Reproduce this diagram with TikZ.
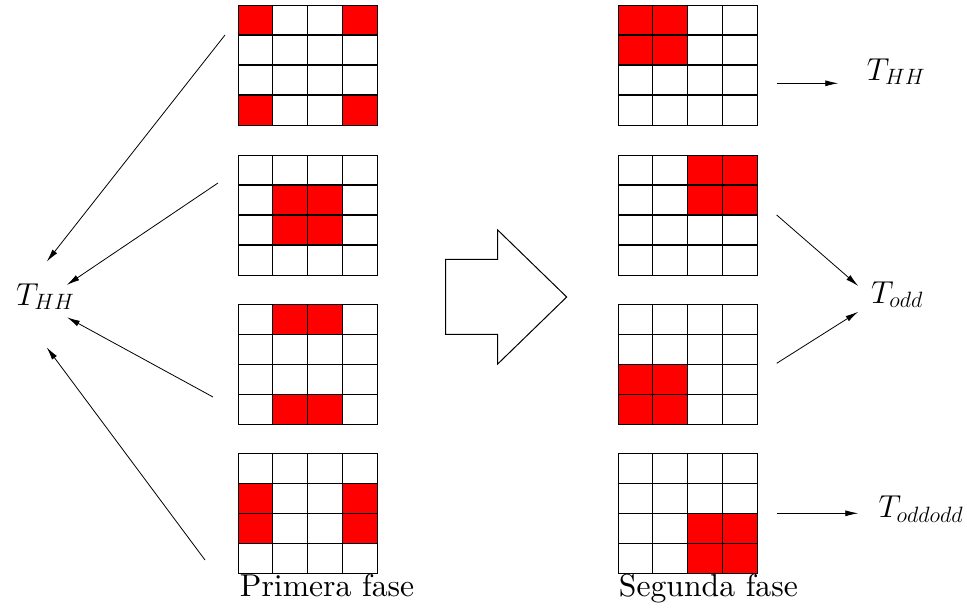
\RequirePackage{fix-cm}
\documentclass[tikz,border=0pt]{standalone}
\usetikzlibrary{arrows.meta}
\newcommand\gridat[4]{%
  \foreach \c/\r in {#4} {\fill[red] ({#2+(\c-1)*34.6},{#3+(\r-1)*30}) rectangle ++(34.6,30);}
  \foreach \i in {1,2,3} {\draw[gridline] ({#2+\i*34.6},#3) -- ++(0,120); \draw[gridline] (#2,{#3+\i*30}) -- ++(138.4,0);}
  \node[gridbox, anchor=north west] (#1) at (#2,#3) {};
}
\begin{document}
\begin{tikzpicture}[x=1pt,y=-1pt,
  gridline/.style={draw=black, line width=1.1pt},
  gridbox/.style={draw=black, line width=1.1pt, minimum width=138.4pt, minimum height=120pt, inner sep=0pt},
  lbl/.style={scale=3.17, inner sep=0pt, anchor=base west},
  mlbl/.style={inner sep=0pt, anchor=base west, font=\fontsize{31.7}{38}\selectfont},
  conn/.style={line width=0.8pt, -{Latex[length=13pt,width=6pt]}}]
\useasboundingbox (0,0) rectangle (967,616);
% left column
\gridat{gL1}{238.3}{5}{1/1,4/1,1/4,4/4}
\gridat{gL2}{238.3}{155}{2/2,3/2,2/3,3/3}
\gridat{gL3}{238.3}{304.3}{2/1,3/1,2/4,3/4}
\gridat{gL4}{238.3}{453.3}{1/2,1/3,4/2,4/3}
% right column
\gridat{gR1}{618.3}{5}{1/1,2/1,1/2,2/2}
\gridat{gR2}{618.3}{155}{3/1,4/1,3/2,4/2}
\gridat{gR3}{618.3}{304.3}{1/3,2/3,1/4,2/4}
\gridat{gR4}{618.3}{453.3}{3/3,4/3,3/4,4/4}
% big arrow
\draw[line width=1pt, line join=miter] (445.7,259.3) -- (497.7,259.3) -- (497.7,230) -- (566.7,297) -- (497.7,364) -- (497.7,334.3) -- (445.7,334.3) -- cycle;
% labels
\node[mlbl] (thhL) at (16,305) {$T_{HH}$};
\node[mlbl] (thhR) at (866.7,80) {$T_{HH}$};
\node[mlbl] (todd) at (871,303) {$T_{odd}$};
\node[mlbl] (toddodd) at (878.3,517.3) {$T_{oddodd}$};
\node[lbl] (p1) at (239.3,596.7) {Primera fase};
\node[lbl] (p2) at (618.3,596.7) {Segunda fase};
% left connectors
\coordinate (a1) at (225,35);   \coordinate (t1) at (46.7,261.7);
\coordinate (a2) at (218,183);  \coordinate (t2) at (66.7,285);
\coordinate (a3) at (213,397);  \coordinate (t3) at (67,317.3);
\coordinate (a4) at (205,560);  \coordinate (t4) at (46.7,347.3);
\draw[conn] (a1) -- (t1);
\draw[conn] (a2) -- (t2);
\draw[conn] (a3) -- (t3);
\draw[conn] (a4) -- (t4);
% right connectors
\coordinate (r1) at (776.7,83.3);  \coordinate (s1) at (838.3,83.3);
\coordinate (r2) at (776.7,215);   \coordinate (s2) at (858.3,286);
\coordinate (r3) at (776.7,363.3); \coordinate (s3) at (858.3,311.7);
\coordinate (r4) at (776.7,513.3); \coordinate (s4) at (858.3,513.3);
\draw[conn] (r1) -- (s1);
\draw[conn] (r2) -- (s2);
\draw[conn] (r3) -- (s3);
\draw[conn] (r4) -- (s4);
\end{tikzpicture}
\end{document}
